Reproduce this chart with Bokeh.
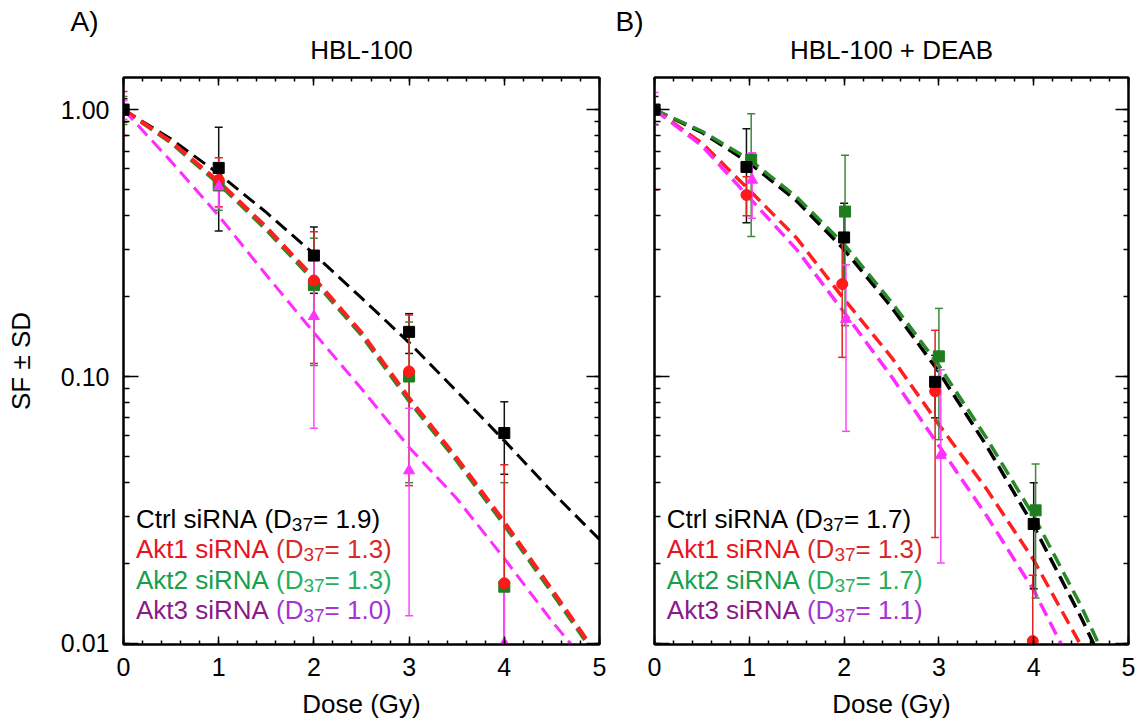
from bokeh.plotting import figure
from bokeh.layouts import row
from bokeh.models import (ColumnDataSource, Range1d, LinearAxis, LogAxis, Title,
                          SingleIntervalTicker, LogTicker, PrintfTickFormatter, Label)
from bokeh.embed import file_html
from bokeh.resources import INLINE

# ---------------- data ----------------
dose = [0, 1, 2, 3, 4]
fit_dose = [0, 0.5, 1.0, 1.5, 2.0, 2.5, 3.0, 3.5, 4.0, 4.5, 5.0]

# Panel A: HBL-100
a_ctrl_sf = [1.0, 0.605, 0.284, 0.147, 0.0614]
a_ctrl_up = [1.10, 0.86, 0.363, 0.172, 0.0804]
a_ctrl_lo = [0.90, 0.351, 0.205, 0.122, 0.043]
a_akt1_sf = [1.0, 0.545, 0.229, 0.1045, 0.0168]
a_akt1_up = [1.17, 0.66, 0.349, 0.17, 0.0467]
a_akt1_lo = [0.80, 0.433, 0.112, 0.039, 0.009]
a_akt2_sf = [1.0, 0.52, 0.22, 0.10, 0.0163]
a_akt2_up = [1.12, 0.62, 0.33, 0.16, 0.040]
a_akt2_lo = [0.88, 0.42, 0.11, 0.040, 0.009]
a_akt3_sf = [1.0, 0.515, 0.168, 0.0444, 0.0100]
a_akt3_up = [1.08, 0.60, 0.272, 0.076, 0.0168]
a_akt3_lo = [0.92, 0.43, 0.064, 0.0127, 0.009]

a_ctrl_fit = [1.0, 0.776, 0.575, 0.412, 0.288, 0.197, 0.134, 0.088, 0.0575, 0.037, 0.0245]
a_akt1_fit = [1.0, 0.759, 0.537, 0.363, 0.234, 0.146, 0.083, 0.0495, 0.0285, 0.0159, 0.0088]
a_akt2_fit = [1.0, 0.752, 0.528, 0.355, 0.229, 0.143, 0.081, 0.0484, 0.0278, 0.0155, 0.0086]
a_akt3_fit = [1.0, 0.64, 0.40, 0.24, 0.146, 0.09, 0.0543, 0.0349, 0.0208, 0.0121, 0.0074]

# Panel B: HBL-100 + DEAB
b_ctrl_dose = [0, 0.97, 2.0, 2.96, 4.0]
b_akt1_dose = [0, 0.97, 1.98, 2.96, 3.99]
b_akt2_dose = [0, 1.02, 2.01, 3.0, 4.02]
b_akt3_dose = [0, 1.03, 2.02, 3.02, 4.0]
b_ctrl_sf = [1.0, 0.61, 0.332, 0.0955, 0.028]
b_ctrl_up = [1.12, 0.849, 0.446, 0.12, 0.040]
b_ctrl_lo = [0.88, 0.377, 0.22, 0.070, 0.016]
b_akt1_sf = [1.0, 0.479, 0.222, 0.088, 0.0102]
b_akt1_up = [1.5, 0.56, 0.326, 0.149, 0.018]
b_akt1_lo = [0.5, 0.40, 0.118, 0.0249, 0.009]
b_akt2_sf = [1.0, 0.65, 0.415, 0.119, 0.0315]
b_akt2_up = [1.4, 0.966, 0.675, 0.18, 0.047]
b_akt2_lo = [0.6, 0.335, 0.155, 0.058, 0.0148]
b_akt3_sf = [1.0, 0.545, 0.164, 0.0506, 0.008]
b_akt3_up = [1.16, 0.689, 0.262, 0.106, 0.0085]
b_akt3_lo = [0.874, 0.392, 0.0623, 0.020, 0.0075]

b_ctrl_fit = [1.0, 0.822, 0.632, 0.455, 0.299, 0.182, 0.104, 0.0552, 0.0275, 0.0125, 0.0053]
b_akt1_fit = [1.0, 0.75, 0.50, 0.33, 0.195, 0.118, 0.066, 0.038, 0.0205, 0.0098, 0.0037]
b_akt2_fit = [1.0, 0.83, 0.651, 0.47, 0.313, 0.19, 0.11, 0.059, 0.030, 0.0138, 0.0057]
b_akt3_fit = [1.0, 0.733, 0.468, 0.299, 0.174, 0.100, 0.055, 0.0302, 0.0158, 0.0071, 0.0028]

series_names = ["Ctrl siRNA", "Akt1 siRNA", "Akt2 siRNA", "Akt3 siRNA"]
a_d37 = ["1.9", "1.3", "1.3", "1.0"]
b_d37 = ["1.7", "1.3", "1.7", "1.1"]

# ---------------- styles ----------------
FONT = "Liberation Sans"
line_cols = ["#000000", "#ff1f1f", "#2a8a2a", "#ff2cff"]
mark_cols = ["#000000", "#ff1a1a", "#1e7e1e", "#ff33ff"]
bar_cols = ["#111111", "#e02525", "#3b8a3b", "#ff45ff"]
markers = ["square", "circle", "square", "triangle"]
name_cols = ["#000000", "#e8141c", "#17a04c", "#8a1a8a"]
paren_cols = ["#000000", "#d42a2a", "#25b060", "#a535d0"]
ARIAL_W = {' ': 278, '(': 333, ')': 333, '.': 278, '=': 584, 'A': 667, 'C': 722,
           'D': 722, 'N': 722, 'R': 722, 'i': 222, 'k': 500, 'l': 222, 'r': 333,
           's': 500, 't': 278}


def tw(s, size):
    return sum(ARIAL_W.get(ch, 556) for ch in s) * size / 1000.0


def style_axis(ax, labels=True, major_in=12, minor_in=6):
    ax.major_tick_in = major_in
    ax.major_tick_out = 0
    ax.minor_tick_in = minor_in
    ax.minor_tick_out = 0
    ax.axis_line_width = 2
    ax.major_tick_line_width = 1.5
    ax.minor_tick_line_width = 1.5
    ax.major_label_text_font = FONT
    ax.major_label_text_font_size = "25px"
    ax.major_label_text_color = "black"
    ax.axis_label_text_font = FONT
    ax.axis_label_text_font_size = "26px"
    ax.axis_label_text_font_style = "normal"
    ax.axis_label_text_color = "black"
    if not labels:
        ax.major_label_text_font_size = "1px"
        ax.major_label_text_color = None
        ax.major_label_standoff = 0


def make_panel(title, letter, letter_offset, xs_list, sf_list, up_list, lo_list, fits,
               d37, left_labels, border_left, border_right, fw, lw):
    p = figure(frame_width=fw, frame_height=567, x_range=Range1d(0, 5),
               y_range=Range1d(0.0099, 1.32), y_axis_type="log",
               output_backend="svg", toolbar_location=None,
               min_border_left=border_left, min_border_right=border_right,
               min_border_top=77, min_border_bottom=76,
               background_fill_color="white", border_fill_color="white",
               outline_line_color="black", outline_line_width=2)
    p.grid.visible = False
    xa = p.below[0]
    ya = p.left[0]

    # outermost title: panel letter
    p.title.text = letter
    p.title.align = "left"
    p.title.offset = letter_offset
    p.title.text_font = FONT
    p.title.text_font_size = "28px"
    p.title.text_font_style = "normal"
    p.title.text_color = "black"
    p.title.standoff = -32

    # top axis first so it sits next to the frame, then the panel title
    top = LinearAxis(ticker=SingleIntervalTicker(interval=1, num_minor_ticks=5))
    style_axis(top, labels=False, major_in=8, minor_in=4)
    p.add_layout(top, "above")
    p.add_layout(Title(text=title, align="center", text_font=FONT,
                       text_font_size="26px", text_font_style="normal",
                       text_color="black", standoff=25), "above")

    xa.ticker = SingleIntervalTicker(interval=1, num_minor_ticks=5)
    style_axis(xa, labels=True, major_in=8, minor_in=4)
    xa.axis_label = "Dose (Gy)"
    xa.major_label_standoff = 13
    xa.axis_label_standoff = 10
    ya.ticker = LogTicker(num_minor_ticks=10)
    ya.formatter = PrintfTickFormatter(format="%.2f")
    style_axis(ya, labels=left_labels, major_in=15, minor_in=6)
    if left_labels:
        ya.axis_label = "SF \u00b1 SD"
        ya.major_label_standoff = 14
        ya.axis_label_standoff = 22
    right = LogAxis(ticker=LogTicker(num_minor_ticks=10))
    style_axis(right, labels=False, major_in=13, minor_in=5)
    p.add_layout(right, "right")

    # fitted curves
    order = [0, 2, 1, 3]
    for i in order:
        p.line(fit_dose, fits[i], line_color=line_cols[i], line_width=lw[i],
               line_dash="14 7")
    # error bars
    for i in order:
        src = ColumnDataSource(dict(x=xs_list[i], sf=sf_list[i], up=up_list[i], lo=lo_list[i]))
        p.segment(x0="x", y0="lo", x1="x", y1="up", source=src,
                  line_color=bar_cols[i], line_width=1.5)
        p.scatter(x="x", y="up", source=src, marker="dash", size=8,
                  line_color=bar_cols[i], line_width=1.5)
        p.scatter(x="x", y="lo", source=src, marker="dash", size=8,
                  line_color=bar_cols[i], line_width=1.5)
    # markers
    for i in [2, 1, 3, 0]:
        src = ColumnDataSource(dict(x=xs_list[i], sf=sf_list[i]))
        p.scatter(x="x", y="sf", source=src, marker=markers[i], size=11,
                  fill_color=mark_cols[i], line_color=mark_cols[i])

    # legend text
    base_y = [0.02936, 0.02266, 0.01734, 0.01338]
    for i in range(4):
        pieces = [(series_names[i] + " ", name_cols[i], 26, 0),
                  ("(D", paren_cols[i], 26, 0),
                  ("37", paren_cols[i], 19, -6),
                  ("= " + d37[i] + ")", paren_cols[i], 26, 0)]
        off = 0.0
        for txt, col, size, dy in pieces:
            p.add_layout(Label(x=0.13, y=base_y[i], x_offset=off, y_offset=dy,
                               text=txt, text_color=col, text_font=FONT,
                               text_font_size=f"{size}px", text_align="left",
                               text_baseline="alphabetic"))
            off += tw(txt, size)
    return p


pa = make_panel("HBL-100", "A)", -53,
                [dose, dose, dose, dose],
                [a_ctrl_sf, a_akt1_sf, a_akt2_sf, a_akt3_sf],
                [a_ctrl_up, a_akt1_up, a_akt2_up, a_akt3_up],
                [a_ctrl_lo, a_akt1_lo, a_akt2_lo, a_akt3_lo],
                [a_ctrl_fit, a_akt1_fit, a_akt2_fit, a_akt3_fit],
                a_d37, True, 123, 10, 476, [3, 4, 4, 3])
pb = make_panel("HBL-100 + DEAB", "B)", -39,
                [b_ctrl_dose, b_akt1_dose, b_akt2_dose, b_akt3_dose],
                [b_ctrl_sf, b_akt1_sf, b_akt2_sf, b_akt3_sf],
                [b_ctrl_up, b_akt1_up, b_akt2_up, b_akt3_up],
                [b_ctrl_lo, b_akt1_lo, b_akt2_lo, b_akt3_lo],
                [b_ctrl_fit, b_akt1_fit, b_akt2_fit, b_akt3_fit],
                b_d37, False, 45, 10, 474, [3.5, 3.5, 3.5, 3.5])

layout = row(pa, pb)
open("out.html", "w").write(file_html(layout, INLINE))
